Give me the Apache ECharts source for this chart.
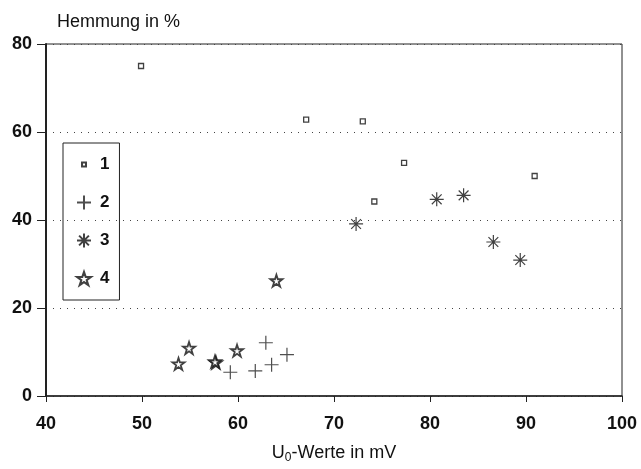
<!DOCTYPE html>
<html>
<head>
<meta charset="utf-8">
<script src="https://cdn.jsdelivr.net/npm/echarts@6/dist/echarts.min.js"></script>
<style>
  html, body { margin: 0; padding: 0; background: #fff; }
  #chart { width: 641px; height: 469px; }
</style>
</head>
<body>
<div id="chart"></div>
<script>
// Hemmung (%) gegen U0-Werte (mV), vier Versuchsreihen
var seriesNames = ['1', '2', '3', '4'];
var series1 = [[49.9, 75.0], [67.1, 62.8], [73.0, 62.4], [74.2, 44.2], [77.3, 53.0], [90.9, 50.0]];
var series2 = [[59.2, 5.4], [61.8, 5.7], [62.9, 12.1], [63.5, 7.1], [65.1, 9.4]];
var series3 = [[72.3, 39.1], [80.7, 44.7], [83.5, 45.6], [86.6, 35.0], [89.4, 30.9]];
var series4 = [[53.8, 7.3], [54.9, 10.9], [57.7, 7.6], [57.6, 7.8], [59.9, 10.3], [64.0, 26.2]];
var xTicks = [40, 50, 60, 70, 80, 90, 100];
var yTicks = [0, 20, 40, 60, 80];

var font = '"Liberation Sans", Arial, sans-serif';

var plusPath = 'path://M0,5L10,5M5,0L5,10';
var asteriskPath = 'path://M5,0L5,10M0,5L10,5M1.5,1.5L8.5,8.5M8.5,1.5L1.5,8.5';
var starPath = 'path://M5,0L6.2,3.6L10,3.6L6.9,5.9L8.1,9.5L5,7.3L1.9,9.5L3.1,5.9L0,3.6L3.8,3.6Z';
// small square for the legend, padded with empty moves so it stays small
var smallRectPath = 'path://M0,0M14,14M5,5L9,5L9,9L5,9Z';

var chart = echarts.init(document.getElementById('chart'));

var option = {
    backgroundColor: '#fff',
    animation: false,
    title: {
        text: 'Hemmung in %',
        left: 52,
        top: 8,
        textStyle: { fontFamily: font, fontSize: 18, fontWeight: 'normal', color: '#111' }
    },
    legend: {
        orient: 'vertical',
        left: 63,
        top: 143,
        padding: [13, 10, 13, 13],
        itemGap: 21,
        itemWidth: 14,
        itemHeight: 14,
        borderColor: '#222',
        borderWidth: 1,
        data: [
            { name: seriesNames[0], icon: smallRectPath },
            { name: seriesNames[1] },
            { name: seriesNames[2] },
            { name: seriesNames[3] }
        ],
        textStyle: { fontFamily: font, fontSize: 17, fontWeight: 'bold', color: '#111', padding: [0, 0, 0, 4] }
    },
    grid: {
        left: 46,
        right: 19,
        top: 44,
        bottom: 69,
        show: true,
        borderColor: '#222',
        borderWidth: 1
    },
    xAxis: {
        type: 'value',
        min: 40,
        max: 100,
        interval: 10,
        name: 'U{sub|0}-Werte in mV',
        nameLocation: 'middle',
        nameGap: 46,
        nameTextStyle: {
            fontFamily: font, fontSize: 18, color: '#111',
            rich: { sub: { fontFamily: font, fontSize: 12, color: '#111', padding: [10, 0, 0, 0] } }
        },
        axisLine: { show: true, onZero: false, lineStyle: { color: '#222', width: 1.5 } },
        axisTick: { show: true, length: 6, lineStyle: { color: '#222' } },
        axisLabel: {
            margin: 19, fontFamily: font, fontSize: 18, fontWeight: 'bold', color: '#111',
            formatter: function (v) { return xTicks.indexOf(v) >= 0 ? String(v) : ''; }
        },
        splitLine: { show: false }
    },
    yAxis: {
        type: 'value',
        min: 0,
        max: 80,
        interval: 20,
        axisLine: { show: true, onZero: false, lineStyle: { color: '#222', width: 2 } },
        axisTick: { show: true, length: 9, lineStyle: { color: '#222' } },
        axisLabel: {
            margin: 14, fontFamily: font, fontSize: 18, fontWeight: 'bold', color: '#111',
            formatter: function (v) { return yTicks.indexOf(v) >= 0 ? String(v) : ''; }
        },
        splitLine: { show: true, lineStyle: { type: [1, 6], color: '#444', width: 1 } }
    },
    series: [
        {
            name: seriesNames[0],
            type: 'scatter',
            data: series1,
            symbol: 'rect',
            symbolSize: 5,
            itemStyle: { color: '#fff', borderColor: '#111', borderWidth: 1.3 }
        },
        {
            name: seriesNames[1],
            type: 'scatter',
            data: series2,
            symbol: plusPath,
            symbolSize: 14,
            itemStyle: { color: 'rgba(0,0,0,0)', borderColor: '#222', borderWidth: 1.2 }
        },
        {
            name: seriesNames[2],
            type: 'scatter',
            data: series3,
            symbol: asteriskPath,
            symbolSize: 14,
            itemStyle: { color: 'rgba(0,0,0,0)', borderColor: '#111', borderWidth: 1.2 }
        },
        {
            name: seriesNames[3],
            type: 'scatter',
            data: series4,
            symbol: starPath,
            symbolSize: 12,
            itemStyle: { color: '#fff', borderColor: '#111', borderWidth: 1.8 }
        }
    ]
};

chart.setOption(option);
</script>
</body>
</html>
